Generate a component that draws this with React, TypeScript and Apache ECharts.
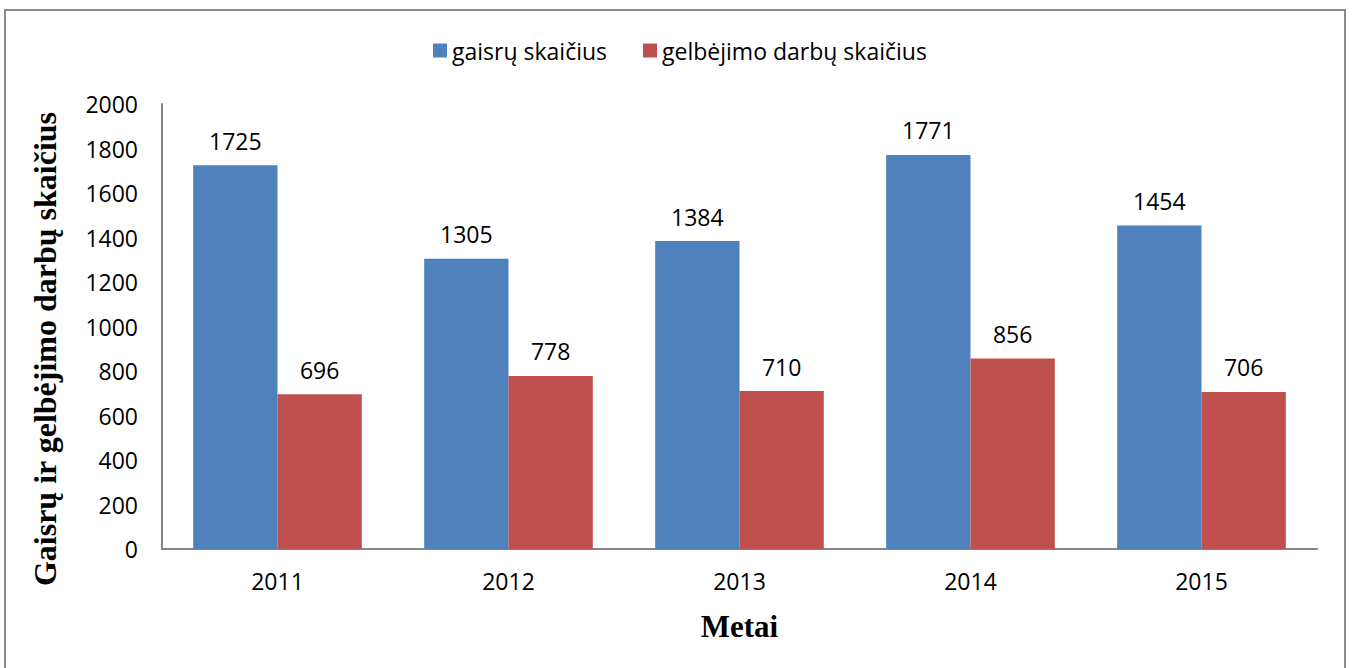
import React, { useEffect, useRef } from "react";
import * as echarts from "echarts";

const years = ["2011", "2012", "2013", "2014", "2015"];
const gaisrai = [1725, 1305, 1384, 1771, 1454];
const gelbejimas = [696, 778, 710, 856, 706];
const seriesNames = ["gaisrų skaičius", "gelbėjimo darbų skaičius"];
const yTitle = "Gaisrų ir gelbėjimo darbų skaičius";
const xTitle = "Metai";

const sans = "'Open Sans', 'Noto Sans', sans-serif";
const serif = "'Liberation Serif', 'DejaVu Serif', serif";
const fs = 23;

export default function App() {
  const ref = useRef<HTMLDivElement>(null);
  useEffect(() => {
    document.body.style.margin = "0";
    const chart = echarts.init(ref.current!, null, { renderer: "svg" });
    const labelStyle = {
      show: true,
      position: "top" as const,
      distance: 13,
      fontFamily: sans,
      fontSize: fs,
      color: "#000",
    };
    chart.setOption({
      animation: false,
      backgroundColor: "#fff",
      grid: { left: 162, right: 36, top: 104, bottom: 119, containLabel: false },
      legend: {
        top: 34,
        left: 428,
        itemWidth: 14,
        itemHeight: 14,
        itemGap: 36,
        icon: "rect",
        textStyle: { fontFamily: sans, fontSize: fs, color: "#000" },
        data: seriesNames,
      },
      xAxis: {
        type: "category",
        data: years,
        name: xTitle,
        nameLocation: "middle",
        nameGap: 62,
        nameTextStyle: { fontFamily: serif, fontSize: 31, fontWeight: "bold", color: "#000" },
        axisLine: { lineStyle: { color: "#868686", width: 2 } },
        axisTick: { show: false },
        axisLabel: { fontFamily: sans, fontSize: fs, color: "#000", margin: 20 },
      },
      yAxis: {
        type: "value",
        min: 0,
        max: 2000,
        interval: 200,
        axisLine: { show: true, lineStyle: { color: "#868686", width: 2 } },
        axisTick: { show: false },
        splitLine: { show: false },
        axisLabel: {
          fontFamily: sans,
          fontSize: fs,
          color: "#000",
          margin: 24,
          formatter: (v: number) => String(v),
        },
      },
      graphic: [
        {
          type: "rect",
          shape: { x: 5, y: 10, width: 1340, height: 680 },
          style: { fill: "none", stroke: "#8c8c8c", lineWidth: 2 },
          silent: true,
        },
        {
          type: "text",
          x: 45,
          y: 349,
          rotation: Math.PI / 2,
          style: {
            text: yTitle,
            fontFamily: serif,
            fontSize: 32,
            fontWeight: "bold",
            fill: "#000",
            align: "center",
            verticalAlign: "middle",
          },
        },
      ],
      series: [
        {
          name: seriesNames[0],
          type: "bar",
          data: gaisrai,
          barGap: "0%",
          barCategoryGap: "27%",
          itemStyle: { color: "#4F81BD" },
          label: labelStyle,
        },
        {
          name: seriesNames[1],
          type: "bar",
          data: gelbejimas,
          itemStyle: { color: "#C0504D" },
          label: labelStyle,
        },
      ],
    });
    return () => chart.dispose();
  }, []);
  return <div ref={ref} style={{ position: "absolute", left: 0, top: 0, width: 1353, height: 668 }} />;
}
